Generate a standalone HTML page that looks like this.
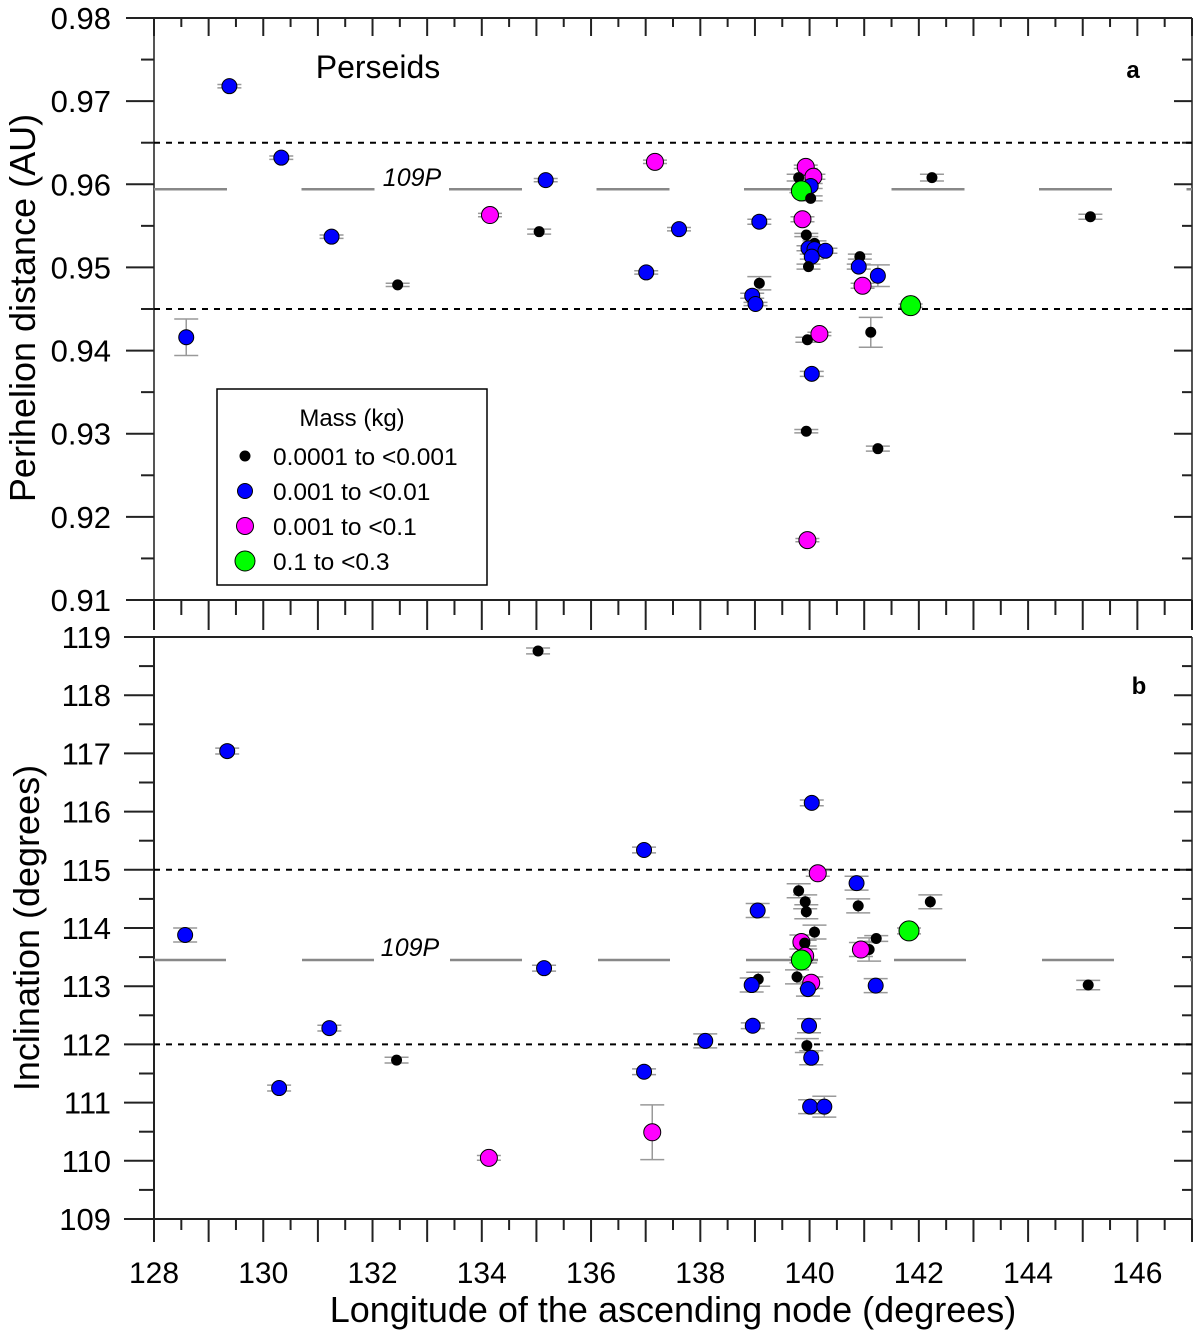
<!DOCTYPE html>
<html><head><meta charset="utf-8"><style>
html,body{margin:0;padding:0;background:#fff;}
svg text{font-family:"Liberation Sans",Arial,sans-serif;}
</style></head><body>
<svg id="chart" width="1200" height="1334" viewBox="0 0 1200 1334" xmlns="http://www.w3.org/2000/svg"></svg>
<script>
// ---- data ----
const colorNames = ["black","blue","magenta","green"];
// panel a: perihelion distance
const aNode = [129.38,128.59,130.33,131.25,132.46,134.15,135.05,135.17,137.17,137.01,137.61,139.08,139.08,138.95,139.01,139.93,139.80,140.07,140.02,139.85,140.02,139.87,139.94,140.09,139.98,140.09,140.29,140.04,139.98,140.92,140.90,141.25,140.97,141.85,139.96,140.18,141.12,142.24,140.04,139.94,141.25,139.96,145.14];
const aQ = [0.9718,0.9416,0.9632,0.9537,0.9479,0.9563,0.9543,0.9605,0.9627,0.9494,0.9546,0.9555,0.9481,0.9466,0.9456,0.9621,0.9608,0.9609,0.9598,0.9592,0.9583,0.9558,0.9539,0.9529,0.9523,0.9522,0.9520,0.9513,0.9501,0.9513,0.9501,0.9490,0.9478,0.9454,0.9413,0.9420,0.9422,0.9608,0.9372,0.9303,0.9282,0.9172,0.9561];
const aErr = [0.0002,0.0022,0.0002,0.0002,0.0002,0.0002,0.0003,0.0002,0.0002,0.0002,0.0002,0.0003,0.0008,0.0003,0.0002,0.0002,0.0004,0.0003,0.0003,0.0002,0.0003,0.0003,0.0002,0.0003,0.0003,0.0003,0.0003,0.0003,0.0003,0.0003,0.0003,0.0013,0.0003,0.0002,0.0003,0.0002,0.0018,0.0004,0.0003,0.0002,0.0003,0.0002,0.0003];
const aCls = [1,1,1,1,0,2,0,1,2,1,1,1,0,1,1,2,0,2,1,3,0,2,0,0,1,1,1,1,0,0,1,1,2,3,0,2,0,0,1,0,0,2,0];
// panel b: inclination
const bNode = [129.34,128.57,130.29,131.21,132.44,134.13,135.03,135.14,136.97,136.97,137.12,138.09,140.15,140.86,139.80,139.92,139.94,139.05,140.89,142.21,141.82,140.09,139.85,139.91,139.92,139.85,141.22,141.09,140.94,139.06,138.94,139.77,140.03,139.97,141.21,138.96,139.99,139.95,140.03,140.01,140.27,140.04,145.10];
const bInc = [117.04,113.88,111.25,112.28,111.73,110.05,118.76,113.31,115.34,111.53,110.49,112.06,114.94,114.77,114.64,114.45,114.28,114.30,114.38,114.45,113.95,113.93,113.76,113.74,113.52,113.45,113.82,113.63,113.63,113.12,113.02,113.16,113.06,112.95,113.01,112.32,112.32,111.98,111.77,110.93,110.93,116.15,113.02];
const bErr = [0.05,0.12,0.05,0.05,0.05,0.04,0.05,0.05,0.05,0.05,0.47,0.12,0.05,0.12,0.12,0.12,0.12,0.12,0.12,0.12,0.05,0.12,0.12,0.05,0.12,0.05,0.05,0.2,0.12,0.12,0.12,0.12,0.1,0.12,0.12,0.05,0.12,0.12,0.12,0.12,0.18,0.05,0.08];
const bCls = [1,1,1,1,0,2,0,1,1,1,2,1,2,1,0,0,0,1,0,0,3,0,2,0,2,3,0,0,2,0,1,0,2,1,1,1,1,0,1,1,1,1,0];
const xTicks = [128,130,132,134,136,138,140,142,144,146];
const aTicks = ["0.98","0.97","0.96","0.95","0.94","0.93","0.92","0.91"];
const bTicks = ["119","118","117","116","115","114","113","112","111","110","109"];
const legendLabels = ["0.0001 to <0.001","0.001 to <0.01","0.001 to <0.1","0.1 to <0.3"];
const fills = ["#000000","#0000ff","#ff00ff","#00ff00"];
const radii = [5,7.5,8.5,10];

// ---- scales ----
const X0=154, X1=1192, XMIN=128, XMAX=147;
const sx = v => X0 + (v-XMIN)/(XMAX-XMIN)*(X1-X0);
const AY0=18, AY1=600; const sa = v => AY0 + (0.98-v)/0.07*(AY1-AY0);
const BY0=637, BY1=1219; const sb = v => BY0 + (119-v)/10*(BY1-BY0);

const svg = document.getElementById('chart');
const NS="http://www.w3.org/2000/svg";
function mk(tag, attrs, parent){const e=document.createElementNS(NS,tag);for(const k in attrs)e.setAttribute(k,attrs[k]);(parent||svg).appendChild(e);return e;}
function line(x1,y1,x2,y2,st,w,dash,parent){return mk('line',{x1,y1,x2,y2,stroke:st,'stroke-width':w||1.5,'stroke-dasharray':dash||'none'},parent);}
function txt(x,y,s,size,anchor,parent,extra){const t=mk('text',Object.assign({x,y,'font-size':size,'text-anchor':anchor||'start',fill:'#000'},extra||{}),parent);t.textContent=s;return t;}

// ---- axes frames ----
const axA = mk('g',{});  
const axB = mk('g',{});  
line(X0,AY0,X1,AY0,'#222',2,null,axA);
line(X0,AY0,X0,AY1,'#555',2,null,axA);
line(X1,AY0,X1,AY1,'#555',2,null,axA);
line(126,AY1,X1,AY1,'#222',2,null,axA);
line(124,BY0,X1,BY0,'#222',2,null,axB);
line(X0,BY0,X0,BY1,'#222',2,null,axB);
line(X1,BY0,X1,BY1,'#555',2,null,axB);
line(124,BY1,X1,BY1,'#222',2,null,axB);
for(let v=XMIN; v<=XMAX+0.001; v+=0.5){
  const x=sx(v); const major=Math.abs(v-Math.round(v))<0.01;
  line(x,AY0,x,AY0+(major?18:9),'#222',2,null,axA);
  line(x,AY1,x,AY1+(major?30:15),'#222',2,null,axA);
  line(x,BY1,x,BY1+(major?23:11),'#222',2,null,axB);
}
xTicks.forEach(v=>{const t=txt(sx(v),1283,String(v),30,'middle',axB);});
for(let i=0;i<=14;i++){const v=0.98-i*0.005;const y=sa(v);const major=i%2===0;
  line(major?126:141,y,X0,y,'#222',2,null,axA); line(X1-(major?18:10),y,X1,y,'#222',2,null,axA);}
aTicks.forEach(s=>{const t=txt(111,sa(parseFloat(s))+11,s,31,'end',axA);});
for(let i=0;i<=20;i++){const v=119-i*0.5;const y=sb(v);const major=i%2===0;
  line(major?124:139,y,X0,y,'#222',2,null,axB); line(X1-(major?18:10),y,X1,y,'#222',2,null,axB);}
bTicks.forEach(s=>{const t=txt(111,sb(parseFloat(s))+11,s,31,'end',axB);});

// ---- reference lines ----
const refA = mk('g',{});  
line(X0,sa(0.965),X1,sa(0.965),'#000',2,'6 6',refA);
line(X0,sa(0.945),X1,sa(0.945),'#000',2,'6 6',refA);
line(X0,sa(0.9594),X1,sa(0.9594),'#888',2.5,'73 74.5',refA);
mk('rect',{x:376,y:160,width:72,height:32,fill:'#fff'},refA);
txt(412,186,'109P',25,'middle',refA,{'font-style':'italic'});
const refB = mk('g',{});  
line(X0,sb(115),X1,sb(115),'#000',2,'6 6',refB);
line(X0,sb(112),X1,sb(112),'#000',2,'6 6',refB);
line(X0,sb(113.45),X1,sb(113.45),'#888',2.5,'72 76',refB);
mk('rect',{x:374,y:930,width:74,height:32,fill:'#fff'},refB);
txt(410,956,'109P',25,'middle',refB,{'font-style':'italic'});

// ---- points ----
function drawPoints(nodes, vals, errs, cls, sy, name){
  const g=mk('g',{});  
  nodes.forEach((n,i)=>{
    const x=sx(n), y1=sy(vals[i]+errs[i]), y2=sy(vals[i]-errs[i]);
    const eb=mk('g',{},g);
    
    
    line(x,y1,x,y2,'#999',1.5,null,eb); line(x-12,y1,x+12,y1,'#999',1.5,null,eb); line(x-12,y2,x+12,y2,'#999',1.5,null,eb);
  });
  nodes.forEach((n,i)=>{
    const c=mk('circle',{cx:sx(n),cy:sy(vals[i]),r:radii[cls[i]],fill:fills[cls[i]],stroke:'#000','stroke-width':1},g);
    
    
  });
}
drawPoints(aNode,aQ,aErr,aCls,sa,'series-perihelion');
drawPoints(bNode,bInc,bErr,bCls,sb,'series-inclination');

// ---- labels ----
let t;
t=txt(378,78,'Perseids',32,'middle');  
t=txt(1133,78,'a',24,'middle',null,{'font-weight':'bold'});  
t=txt(1139,694,'b',24,'middle',null,{'font-weight':'bold'});  
t=txt(0,0,'Perihelion distance (AU)',36,'middle',null,{transform:'translate(35,308) rotate(-90)'});  
t=txt(0,0,'Inclination (degrees)',36,'middle',null,{transform:'translate(39,928) rotate(-90)'});  
t=txt(673,1322,'Longitude of the ascending node (degrees)',36,'middle');  

// ---- legend ----
const lg=mk('g',{});  
mk('rect',{x:217,y:389,width:270,height:196,fill:'#fff',stroke:'#000','stroke-width':1.5},lg);
txt(352,426,'Mass (kg)',24,'middle',lg);
legendLabels.forEach((s,i)=>{
  const e=mk('g',{},lg);
  
  
  const y=456+i*35;
  mk('circle',{cx:245,cy:y,r:radii[i],fill:fills[i],stroke:'#000','stroke-width':1},e);
  txt(273,y+9,s,24.5,'start',e);
});
</script>
</body></html>
